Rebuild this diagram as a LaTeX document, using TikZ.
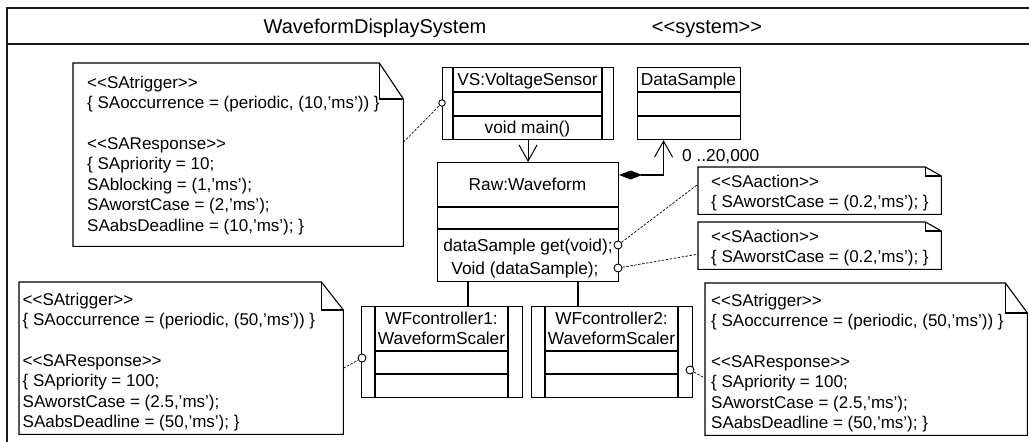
\documentclass[tikz,border=0pt]{standalone}
\usepackage{fontspec}
\setmainfont{Liberation Sans}[Ligatures=TeXOff]
\usetikzlibrary{arrows.meta}

% outline of a UML note whose body node is #1, with a folded corner #2 wide and #3 high
\newcommand\notepath[3]{%
  \draw[noteline] (#1.north west) -- ([xshift=-#2pt]#1.north east)
    -- ([yshift=-#3pt]#1.north east) -- (#1.south east) -- (#1.south west) -- cycle;
  \draw[noteline] ([xshift=-#2pt]#1.north east) -- ([xshift=-#2pt,yshift=-#3pt]#1.north east)
    -- ([yshift=-#3pt]#1.north east);}
% fixed-height strut opening the first line of a note, so the note text top is known
\newcommand\notestrut{\rule{0pt}{13pt}}

\begin{document}
\begin{tikzpicture}[x=1pt,y=-1pt,
  frame/.style={line width=2pt, draw=black!90},
  box/.style={draw, line width=1.1pt, inner sep=0pt, anchor=north west},
  sep/.style={line width=1.1pt},
  lbl/.style={font=\fontsize{17.3}{20}\selectfont, inner sep=0pt, text height=12.4pt, text depth=0pt},
  head/.style={font=\fontsize{20}{24}\selectfont, inner sep=0pt, text height=14.3pt, text depth=0pt},
  notebody/.style={inner sep=0pt, anchor=north west},
  noteline/.style={line width=1.1pt, line join=miter},
  notetext/.style={font=\fontsize{17}{20.4}\selectfont, align=left, inner sep=0pt, anchor=north west},
  port/.style={circle, draw, fill=white, line width=0.9pt, minimum size=8pt, inner sep=0pt},
  link/.style={line width=0.7pt, dash pattern=on 2.5pt off 1.5pt},
  assoc/.style={line width=1.1pt},
]
\useasboundingbox (0,0) rectangle (1029,442);

% system frame and its header
\draw[frame] (7,460) -- (7,8) -- (1040,8);
\draw[frame] (7,43.5) -- (1040,43.5);
\node[head] (title) at (375,26) {WaveformDisplaySystem};
\node[head] (stereo) at (707,26) {<<system>>};

% VS:VoltageSensor (active class)
\node[box, minimum width=171pt, minimum height=72pt] (vs) at (442,67) {};
\draw[sep] (453,67) -- (453,139);
\draw[sep] (602,67) -- (602,139);
\draw[sep] (453,92) -- (602,92);
\draw[sep] (453,116) -- (602,116);
\node[lbl] (vsname) at (527.5,79.5) {VS:VoltageSensor};
\node[lbl] (vsop) at (527.5,127.5) {void main()};

% DataSample
\node[box, minimum width=103pt, minimum height=72pt] (ds) at (637,67) {};
\draw[sep] (637,92) -- (740,92);
\draw[sep] (637,116) -- (740,116);
\node[lbl] (dsname) at (688.5,79.5) {DataSample};

% Raw:Waveform
\node[box, minimum width=181pt, minimum height=119pt] (raw) at (437,162) {};
\draw[sep] (437,207) -- (618,207);
\draw[sep] (437,229) -- (618,229);
\node[lbl] (rawname) at (527.5,184.5) {Raw:Waveform};
\node[lbl] (rawget) at (528,245) {dataSample get(void);};
\node[lbl] (rawvoid) at (525,268) {Void (dataSample);};

% WFcontroller1 (active class)
\node[box, minimum width=161pt, minimum height=91pt] (c1) at (361,306) {};
\draw[sep] (375,306) -- (375,397);
\draw[sep] (508,306) -- (508,397);
\draw[sep] (375,351) -- (508,351);
\draw[sep] (375,374) -- (508,374);
\node[lbl] (c1a) at (441.5,318) {WFcontroller1:};
\node[lbl] (c1b) at (441.5,338) {WaveformScaler};

% WFcontroller2 (active class)
\node[box, minimum width=161pt, minimum height=91pt] (c2) at (531,306) {};
\draw[sep] (545,306) -- (545,397);
\draw[sep] (678,306) -- (678,397);
\draw[sep] (545,351) -- (678,351);
\draw[sep] (545,374) -- (678,374);
\node[lbl] (c2a) at (611.5,318) {WFcontroller2:};
\node[lbl] (c2b) at (611.5,338) {WaveformScaler};

% notes (text tops sit 13pt above the first baseline)
\node[notebody, minimum width=330pt, minimum height=183pt] (n1) at (73,63) {};
\notepath{n1}{24}{36}
\node[notetext] (n1t) at (87,75) {\notestrut<<SAtrigger>>\\
\{ SAoccurrence = (periodic, (10,’ms’)) \}\\[20.4pt]
<<SAResponse>>\\
\{ SApriority = 10;\\
SAblocking = (1,’ms’);\\
SAworstCase = (2,’ms’);\\
SAabsDeadline = (10,’ms’); \}};

\node[notebody, minimum width=324pt, minimum height=152pt] (n3) at (19,282) {};
\notepath{n3}{22}{28}
\node[notetext] (n3t) at (22.5,292) {\notestrut<<SAtrigger>>\\
\{ SAoccurrence = (periodic, (50,’ms’)) \}\\[20.4pt]
<<SAResponse>>\\
\{ SApriority = 100;\\
SAworstCase = (2.5,’ms’);\\
SAabsDeadline = (50,’ms’); \}};

\node[notebody, minimum width=322pt, minimum height=152pt] (br) at (705,283) {};
\notepath{br}{22}{30}
\node[notetext] (brt) at (711,293) {\notestrut<<SAtrigger>>\\
\{ SAoccurrence = (periodic, (50,’ms’)) \}\\[20.4pt]
<<SAResponse>>\\
\{ SApriority = 100;\\
SAworstCase = (2.5,’ms’);\\
SAabsDeadline = (50,’ms’); \}};

\node[notebody, minimum width=243pt, minimum height=47pt] (a1) at (698,167) {};
\notepath{a1}{16}{9}
\node[notetext] (a1t) at (711,174) {\notestrut<<SAaction>>\\
\{ SAworstCase = (0.2,’ms’); \}};

\node[notebody, minimum width=243pt, minimum height=47pt] (a2) at (698,222) {};
\notepath{a2}{16}{9}
\node[notetext] (a2t) at (711,229) {\notestrut<<SAaction>>\\
\{ SAworstCase = (0.2,’ms’); \}};

% associations
\draw[assoc, -{Straight Barb[length=16pt, width=18pt, line width=1pt]}] (vs.south) -- (raw.north);
\draw[assoc, {Diamond[length=23pt, width=9pt]}-{Straight Barb[length=16pt, width=18pt, line width=1pt]}]
  ([yshift=-13pt]raw.north east) -| ([xshift=-25.5pt]ds.south);
\node[lbl, anchor=west] (mult) at (682,155) {0 ..20,000};
\coordinate (j1) at (468,306);
\coordinate (j2) at (578,306);
\draw[assoc] (j1) -- (j1 |- raw.south);
\draw[assoc] (j2) -- (j2 |- raw.south);

% ports and their note links
\node[port, minimum size=6.5pt] (pvs) at (442,103) {};
\node[port] (pget) at (618,245) {};
\node[port] (pvoid) at (618,268) {};
\node[port] (pc1) at (362,358) {};
\node[port] (pc2) at (690,370) {};
\draw[link] ([yshift=12.5pt]n1.east) -- (pvs);
\draw[link] (pget) -- ([yshift=6.5pt]a1.west);
\draw[link] (pvoid) -- ([yshift=-8.5pt]a2.west);
\draw[link] ([yshift=-10pt]n3.east) -- (pc1);
\draw[link] (pc2) -- ([yshift=-19pt]br.west);
\end{tikzpicture}
\end{document}
